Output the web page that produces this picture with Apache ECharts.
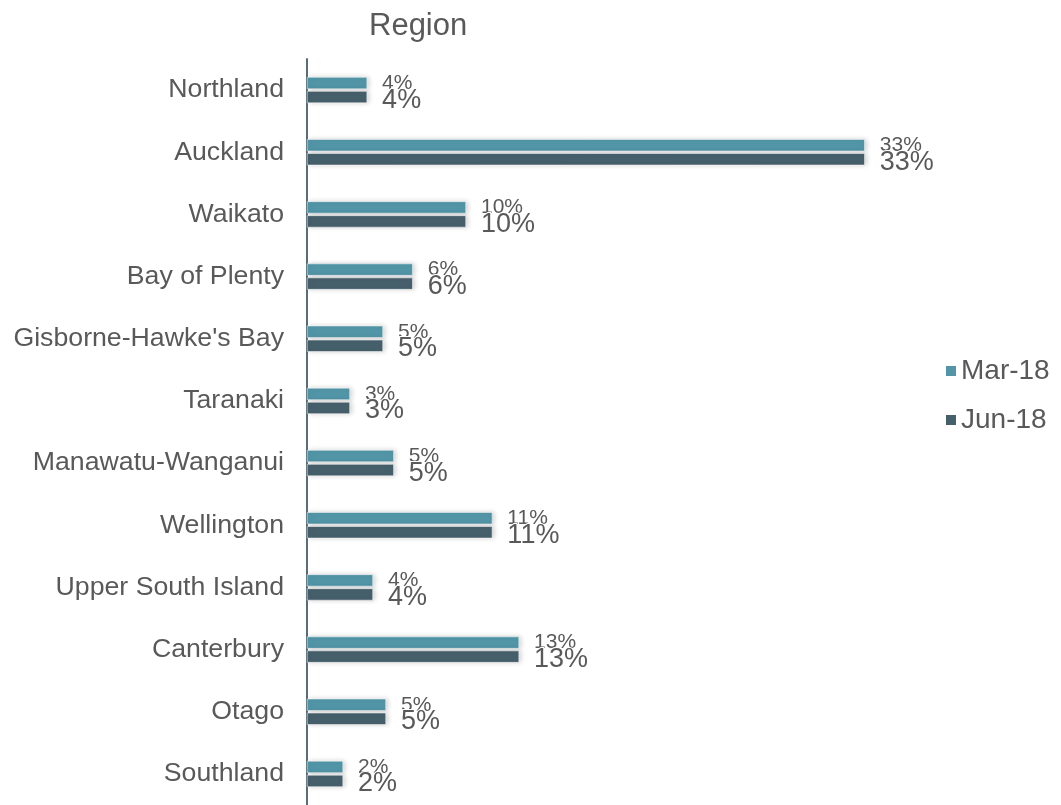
<!DOCTYPE html>
<html>
<head>
<meta charset="utf-8">
<script src="https://cdn.jsdelivr.net/npm/echarts@6/dist/echarts.min.js"></script>
<style>html,body{margin:0;padding:0;background:#fff;}#c{width:1061px;height:805px;}</style>
</head>
<body>
<div id="c"></div>
<script>
const categories = ["Northland","Auckland","Waikato","Bay of Plenty","Gisborne-Hawke's Bay","Taranaki","Manawatu-Wanganui","Wellington","Upper South Island","Canterbury","Otago","Southland"];
const seriesNames = ["Mar-18","Jun-18"];
const mar18 = [3.6,33.4,9.52,6.33,4.55,2.57,5.2,11.1,3.95,12.7,4.73,2.16];
const jun18 = [3.6,33.4,9.52,6.33,4.55,2.57,5.2,11.1,3.95,12.7,4.73,2.16];

const FONT = 'Liberation Sans, Arial, sans-serif';
const TXT = '#595959';
const chart = echarts.init(document.getElementById('c'), null, {renderer:'canvas'});
const fmt = p => Math.round(p.value) + '%';
chart.setOption({
  animation:false,
  backgroundColor:'#fff',
  title:{text:'Region',left:364,top:6,textStyle:{fontFamily:FONT,fontSize:31,fontWeight:'normal',color:TXT}},
  legend:{orient:'vertical',left:939,top:352,itemWidth:12,itemHeight:12,itemGap:21,icon:'rect',
    textStyle:{fontFamily:FONT,fontSize:28,color:TXT,padding:[0,0,0,-1]},data:seriesNames},
  grid:{left:307,top:59,bottom:-3,width:16.7*40,containLabel:false},
  xAxis:{type:'value',min:0,max:40,show:false},
  yAxis:{type:'category',data:categories,inverse:true,
    axisLine:{show:true,lineStyle:{color:'#5a6e78',width:2}},
    axisTick:{show:false},
    axisLabel:{fontFamily:FONT,fontSize:26.7,color:TXT,margin:23,lineHeight:34,verticalAlign:'middle',padding:[4,0,0,0]}},
  series:[
    {name:seriesNames[0],type:'bar',data:mar18,barWidth:12,barGap:'17%',
      itemStyle:{color:'#5195a6',borderColor:'#fff',borderWidth:0.5,shadowBlur:5,shadowColor:'rgba(0,0,0,0.18)',shadowOffsetX:2},
      label:{show:true,position:'right',distance:15,formatter:fmt,fontFamily:FONT,fontSize:21,color:TXT,textBorderColor:'#fff',textBorderWidth:2,offset:[0,0]}},
    {name:seriesNames[1],type:'bar',data:jun18,barWidth:12,
      itemStyle:{color:'#455f6b',borderColor:'#fff',borderWidth:0.5,shadowBlur:5,shadowColor:'rgba(0,0,0,0.18)',shadowOffsetX:2},
      label:{show:true,position:'right',distance:15,formatter:fmt,fontFamily:FONT,fontSize:27,color:TXT,textBorderColor:'#fff',textBorderWidth:2,offset:[0,3]}}
  ]
});
</script>
</body>
</html>
